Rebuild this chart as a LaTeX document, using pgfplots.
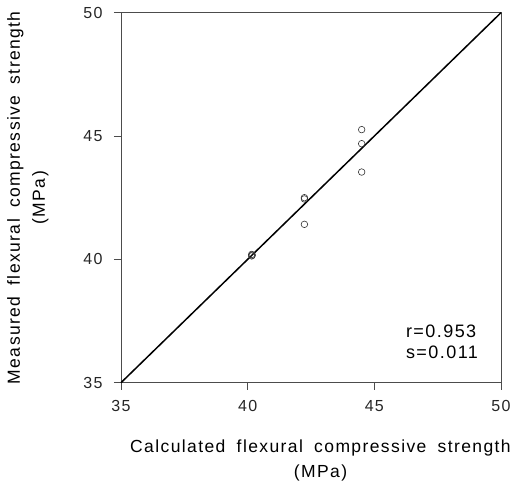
\documentclass[border=0pt]{standalone}
\usepackage{fontspec}
\setmainfont{Liberation Sans}[LetterSpace=8, WordSpace=1.8]
\usepackage{pgfplots}
\pgfplotsset{compat=1.18}

\begin{document}
\begin{tikzpicture}
\useasboundingbox (-121pt,-109.3pt) rectangle (393pt,382.7pt);
\begin{axis}[
    scale only axis,
    width=380pt, height=370pt,
    xmin=35, xmax=50, ymin=35, ymax=50,
    xtick={35,40,45,50}, ytick={35,40,45,50},
    tick align=outside, tick pos=left,
    major tick length=7pt,
    axis line style={line width=0.5pt, black!70},
    tick style={black!70, line width=0.5pt},
    /pgf/number format/assume math mode=true,
    ticklabel style={font=\fontsize{16}{16}\selectfont, text=black!85},
    xticklabel style={yshift=-7pt},
    yticklabel style={xshift=-8pt},
    xlabel={Calculated flexural compressive strength\\[7pt](MPa)},
    xlabel style={align=center, font=\fontsize{17.5}{18}\selectfont,
        at={(axis description cs:0.525,0)}, anchor=north, yshift=-54pt},
    ylabel={Measured flexural compressive strength\\[7pt](MPa)},
    ylabel style={align=center, font=\fontsize{17.5}{18}\selectfont,
        at={(axis description cs:0,0.5)}, anchor=south, yshift=69pt},
    clip=false,
]
\addplot[black, line width=1.5pt] coordinates {(35,35) (50,50)};
\addplot[only marks, mark=o, mark size=3.3pt, mark options={line width=0.6pt, black!80}] coordinates {
    (44.50,45.26) (44.50,44.69) (44.50,43.54)
    (42.24,42.50) (42.24,42.45) (42.24,41.42)
    (40.16,40.20) (40.16,40.14) (40.18,40.17)
};
\node[font=\fontsize{18}{18}\selectfont, align=left, anchor=center] at (axis cs:47.67,36.65) {r=0.953\\[3pt]s=0.011};
\end{axis}
\end{tikzpicture}
\end{document}
